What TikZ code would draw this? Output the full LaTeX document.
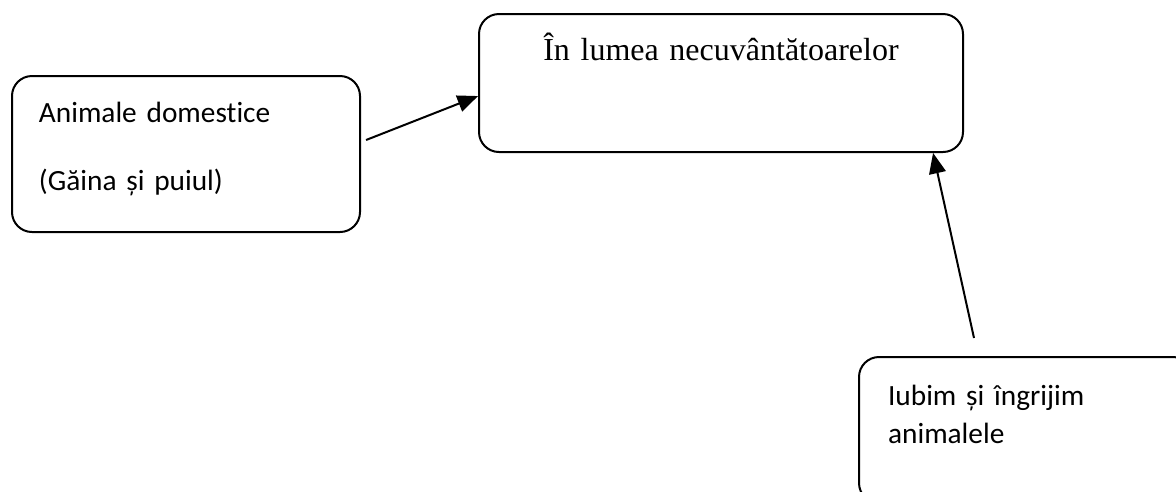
\documentclass[tikz,border=0pt]{standalone}
\usepackage{fontspec}
\setmainfont{Carlito}[Ligatures=NoCommon]
\newfontfamily\serifro{Liberation Serif}
\usetikzlibrary{arrows}

\begin{document}
\begin{tikzpicture}[x=0.375pt,y=-0.375pt]
\tikzstyle{every node}=[draw, rounded corners=7.5pt, line width=0.75pt, inner ysep=0pt, align=left, font=\fontsize{11}{14.6}\selectfont]
\path[use as bounding box, clip] (0,0) rectangle (1176,491);
\draw (11,75) node (b1) [anchor=north west, inner xsep=10.1pt, text width=110.3pt, text height=17.6pt, text depth=40.9pt] {Animale domestice\\[10.9pt](Găina și puiul)};
\draw (478,13) node (b2) [anchor=north west, inner xsep=0pt, align=center, text width=181.5pt, text height=17.25pt, text depth=34.5pt, font=\serifro\fontsize{12}{14}\selectfont] {În lumea necuvântătoarelor};
\draw (858,356) node (b3) [anchor=north west, inner xsep=10.9pt, text width=103.45pt, text height=18pt, text depth=36.75pt] {Iubim și îngrijim\\animalele};
\draw[line width=0.75pt, -triangle 45] ([xshift=1.9pt,yshift=5.25pt]b1.east) -- ([yshift=-4.9pt]b2.west);
\draw[line width=0.75pt, -triangle 45] ([xshift=-19.5pt,yshift=6.75pt]b3.north) -- ([xshift=-11.6pt]b2.south east);
\end{tikzpicture}
\end{document}
